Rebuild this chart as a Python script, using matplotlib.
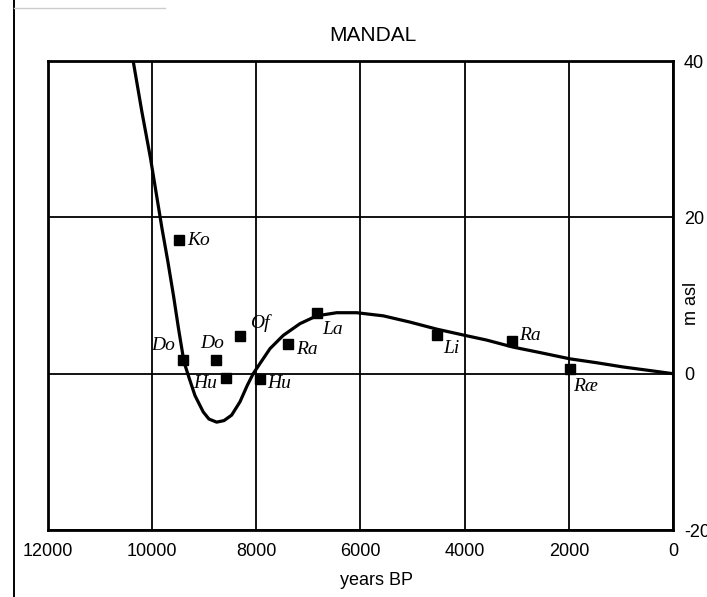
import matplotlib.pyplot as plt
from matplotlib.lines import Line2D

# curve: years BP, metres above sea level
curve_years = [10375, 10200, 10033, 9812, 9700, 9591, 9495, 9389, 9288, 9178, 9019,
               8910, 8762, 8620, 8474, 8314, 8174, 8060, 7930, 7738, 7483, 7162,
               6841, 6457, 6073, 5563, 5050, 4537, 3995, 3578, 3070, 2553, 1980,
               1465, 960, 442, 0]
curve_level = [40.4, 33.6, 27.6, 18.6, 14.4, 10.0, 5.8, 1.5, -0.6, -2.8, -4.9,
               -5.8, -6.2, -6.0, -5.3, -3.6, -1.5, 0.0, 1.3, 3.2, 4.9, 6.4,
               7.4, 7.8, 7.8, 7.4, 6.6, 5.7, 4.9, 4.3, 3.4, 2.7, 1.9,
               1.4, 0.86, 0.4, 0.0]

# dated sites
site_names = ["Ko", "Do", "Do", "Hu", "Of", "Hu", "Ra", "La", "Li", "Ra", "Ræ"]
site_years = [9480, 9400, 8775, 8585, 8315, 7930, 7385, 6840, 4535, 3100, 1980]
site_level = [17.1, 1.8, 1.7, -0.55, 4.8, -0.65, 3.85, 7.7, 4.9, 4.2, 0.65]
# label offsets in pixels (dx, dy) and horizontal alignment
label_off = [(8, 0, "left"), (-8, 14, "right"), (-4, 17, "center"), (-9, -6, "right"),
             (10, 13, "left"), (7, -5, "left"), (8, -6, "left"), (5, -16, "left"),
             (6, -13, "left"), (8, 5, "left"), (3, -18, "left")]

x_ticks = [12000, 10000, 8000, 6000, 4000, 2000, 0]
y_ticks = [-20, 0, 20, 40]

plt.rcParams['font.family'] = ['Liberation Sans', 'DejaVu Sans']
plt.rcParams['axes.unicode_minus'] = False

fig = plt.figure(figsize=(7.07, 5.97), dpi=100)
ax = fig.add_axes([0.0679, 0.1122, 0.884, 0.7856])

ax.set_xlim(12000, 0)
ax.set_ylim(-20, 40)
ax.set_xticks(x_ticks)
ax.set_yticks(y_ticks)
ax.yaxis.tick_right()
ax.tick_params(length=0, labelsize=13, colors="black")
ax.tick_params(axis="x", pad=9)
ax.tick_params(axis="y", pad=8)

ax.grid(True, color="black", linewidth=1.3)
ax.set_axisbelow(True)
for s in ax.spines.values():
    s.set_linewidth(2)

ax.plot(curve_years, curve_level, color="black", linewidth=2.3,
        solid_joinstyle="round")
ax.plot(site_years, site_level, linestyle="none", marker="s", markersize=7.5,
        color="black")

for name, x, y, (dx, dy, ha) in zip(site_names, site_years, site_level, label_off):
    ax.annotate(name, (x, y), xytext=(dx, dy), textcoords="offset pixels",
                ha=ha, va="center", fontsize=14, style="italic",
                family=["Liberation Serif", "DejaVu Serif"])

fig.text(0.527, 0.941, "MANDAL", ha="center", va="center", fontsize=15)
fig.text(0.533, 0.028, "years BP", ha="center", va="center", fontsize=13)
fig.text(0.978, 0.492, "m asl", rotation=90, ha="center", va="center", fontsize=13)

# page border left by the scan
fig.add_artist(Line2D([0.020, 0.020], [0.0, 1.0], transform=fig.transFigure,
                      color="black", linewidth=1.4))
fig.add_artist(Line2D([0.020, 0.233], [0.987, 0.987], transform=fig.transFigure,
                      color="#cccccc", linewidth=1))

fig.savefig("out.png", dpi=100, facecolor="white")
